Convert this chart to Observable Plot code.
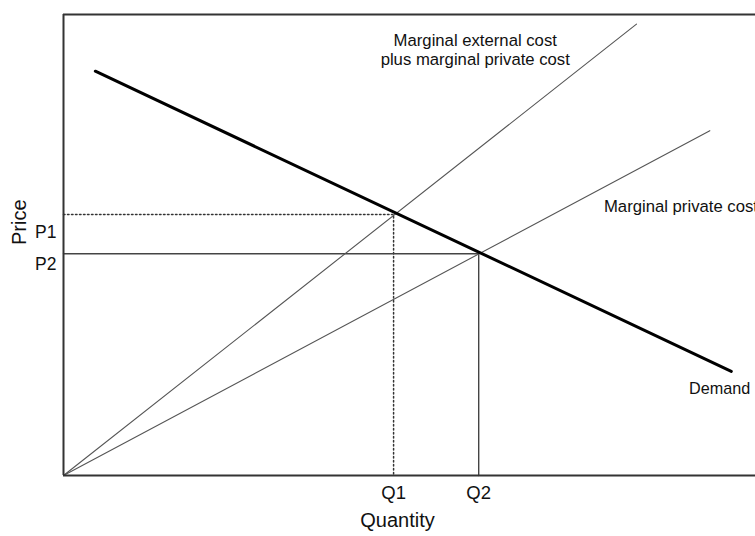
<!DOCTYPE html>
<html>
<head>
<meta charset="utf-8">
<script src="https://cdn.jsdelivr.net/npm/d3@7"></script>
<script src="https://cdn.jsdelivr.net/npm/@observablehq/plot@0.6"></script>
<style>
  html, body { margin: 0; padding: 0; background: #fff; }
  svg { font-family: "Liberation Sans", Arial, Helvetica, sans-serif; }
</style>
</head>
<body>
<div id="chart"></div>
<script>
// Curves (quantity, price) in chart units
const demandQ = [4.6, 96.5];
const demandP = [87.7, 22.6];
const mecQ = [0, 82.8];     // marginal external cost plus marginal private cost
const mecP = [0, 97.9];
const mpcQ = [0, 93.4];     // marginal private cost
const mpcP = [0, 74.8];

// Equilibria
const qValues = [47.7, 60.0];          // Q1, Q2
const pValues = [56.6, 48.1];          // P1, P2

// Tick labels
const qTickLabels = ["Q1", "Q2"];
const pTickLabels = ["P1", "P2"];
const pTickLabelPos = [52.8, 45.9];

// Annotations
const mecLabel = "Marginal external cost\nplus marginal private cost";
const mecLabelPos = [59.5, 92.4];
const mpcLabel = "Marginal private cost";
const mpcLabelPos = [78.1, 58.4];
const demandLabel = "Demand";
const demandLabelPos = [90.4, 18.7];

const toPts = (qs, ps) => qs.map((q, i) => ({q, p: ps[i]}));
const demand = toPts(demandQ, demandP);
const mec = toPts(mecQ, mecP);
const mpc = toPts(mpcQ, mpcP);
const guide1 = [{q: 0, p: pValues[0]}, {q: qValues[0], p: pValues[0]}, {q: qValues[0], p: 0}];
const guide2 = [{q: 0, p: pValues[1]}, {q: qValues[1], p: pValues[1]}, {q: qValues[1], p: 0}];
const qTicks = qTickLabels.map((label, i) => ({label, q: qValues[i]}));
const pTicks = pTickLabels.map((label, i) => ({label, p: pTickLabelPos[i]}));
const lab = (t, pos) => [{t, q: pos[0], p: pos[1]}];

const chart = Plot.plot({
  width: 755,
  height: 536,
  marginLeft: 63,
  marginRight: 0,
  marginTop: 14,
  marginBottom: 61,
  style: {fontFamily: '"Liberation Sans", Arial, Helvetica, sans-serif', background: "#fff", overflow: "visible"},
  x: {domain: [0, 100], axis: null},
  y: {domain: [0, 100], axis: null},
  marks: [
    Plot.line(guide1, {x: "q", y: "p", stroke: "#333", strokeWidth: 1.5, strokeDasharray: "1.5,2.5"}),
    Plot.line(guide2, {x: "q", y: "p", stroke: "#444", strokeWidth: 1.4}),
    Plot.line(mec, {x: "q", y: "p", stroke: "#555", strokeWidth: 1.1}),
    Plot.line(mpc, {x: "q", y: "p", stroke: "#555", strokeWidth: 1.1}),
    Plot.line(demand, {x: "q", y: "p", stroke: "#000", strokeWidth: 3}),
    Plot.ruleX([0], {stroke: "#333", strokeWidth: 2}),
    Plot.ruleY([0, 100], {stroke: "#333", strokeWidth: 2}),
    Plot.text(qTicks, {x: "q", text: "label", frameAnchor: "bottom", dy: 23.2, fontSize: 18.5, fill: "#111"}),
    Plot.text(pTicks, {y: "p", text: "label", frameAnchor: "left", dx: -7, textAnchor: "end", fontSize: 17.5, fill: "#111"}),
    Plot.text(["Price"], {frameAnchor: "left", dx: -44, rotate: -90, fontSize: 20, fill: "#111"}),
    Plot.text(["Quantity"], {frameAnchor: "bottom", dx: -12, dy: 51.2, fontSize: 20, fill: "#111"}),
    Plot.text(lab(mecLabel, mecLabelPos), {x: "q", y: "p", text: "t", textAnchor: "middle", fontSize: 16.7, lineHeight: 1.1, fill: "#111"}),
    Plot.text(lab(mpcLabel, mpcLabelPos), {x: "q", y: "p", text: "t", textAnchor: "start", fontSize: 16.7, fill: "#111"}),
    Plot.text(lab(demandLabel, demandLabelPos), {x: "q", y: "p", text: "t", textAnchor: "start", fontSize: 16.2, fill: "#111"})
  ]
});
document.getElementById("chart").appendChild(chart);
</script>
</body>
</html>
